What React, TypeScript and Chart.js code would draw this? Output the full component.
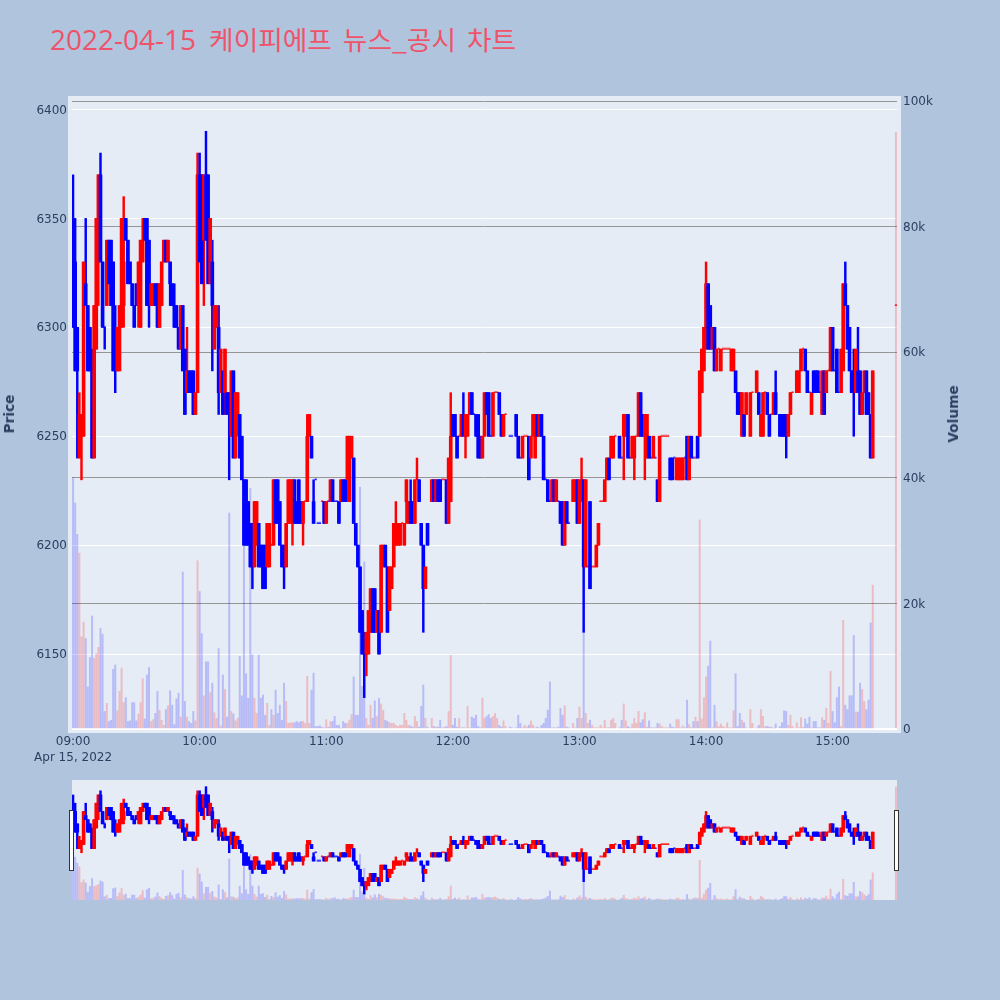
import React, { useEffect, useRef } from "react";
import { Chart, registerables } from "chart.js";

Chart.register(...registerables);

type Row = [number, number, number, number, number, number];

const titleDate = "2022-04-15";
const titleText = "케이피에프 뉴스_공시 차트";
const dateLabel = "Apr 15, 2022";
const priceTitle = "Price";
const volumeTitle = "Volume";
const priceTicks = [6150, 6200, 6250, 6300, 6350, 6400];
const volumeTicks = [0, 20, 40, 60, 80, 100];
const hourTicks = [0, 60, 120, 180, 240, 300, 360];
const hourLabels = ["09:00", "10:00", "11:00", "12:00", "13:00", "14:00", "15:00"];

// [minute after 09:00, open, high, low, close, volume in thousands]
const hour09: Row[] = [
[0,6350,6370,6300,6300,40],[1,6330,6350,6280,6280,36],[2,6300,6300,6240,6280,31],[3,6240,6270,6240,6260,28],[4,6250,6260,6230,6260,14.7],
[5,6250,6330,6250,6330,17],[6,6320,6350,6310,6310,14.4],[7,6310,6310,6280,6280,6.7],[8,6300,6300,6280,6280,11.4],[9,6280,6290,6240,6240,18],
[10,6240,6310,6240,6310,11.3],[11,6290,6350,6290,6350,12],[12,6340,6370,6310,6370,13],[13,6370,6380,6330,6330,16],[14,6330,6330,6300,6300,15.1],
[15,6300,6300,6290,6300,2.8],[16,6310,6340,6310,6340,4.1],[17,6340,6340,6320,6320,1.2],[18,6340,6340,6310,6310,1.4],[19,6330,6330,6280,6280,9.5],
[20,6290,6310,6270,6280,10.2],[21,6280,6300,6280,6300,2.9],[22,6280,6310,6280,6310,6],[23,6300,6350,6300,6350,9.7],[24,6310,6360,6300,6330,4.2],
[25,6350,6350,6340,6340,5],[26,6340,6340,6320,6320,1.2],[27,6330,6330,6320,6320,1.3],[28,6320,6320,6310,6310,4.2],[29,6310,6310,6300,6300,4.2],
[30,6320,6320,6310,6310,1.3],[31,6310,6330,6300,6330,2.4],[32,6300,6340,6300,6340,4.2],[33,6330,6350,6330,6340,8],[34,6350,6350,6340,6340,1.6],
[35,6350,6350,6310,6310,8.6],[36,6340,6340,6300,6310,9.8],[37,6310,6320,6310,6320,1.2],[38,6310,6320,6310,6320,1.5],[39,6320,6320,6310,6310,2.5],
[40,6320,6320,6300,6300,6],[41,6300,6320,6300,6320,3],[42,6310,6330,6310,6330,1.4],[43,6330,6340,6330,6340,0.6],[44,6340,6340,6330,6330,3.1],
[45,6330,6340,6330,6340,3.7],[46,6330,6330,6310,6320,6.1],[47,6320,6320,6310,6310,3.8],[48,6310,6320,6300,6300,0.7],[49,6310,6310,6300,6300,4.8],
[50,6300,6300,6290,6290,5.7],[51,6290,6310,6290,6310,1.9],[52,6310,6310,6280,6280,25],[53,6290,6290,6260,6260,4.4],[54,6270,6300,6270,6280,1.9],
[55,6280,6280,6270,6270,1.2],[56,6280,6280,6270,6270,0.9],[57,6280,6280,6260,6260,2.8],[58,6260,6270,6260,6270,1.3],[59,6270,6380,6270,6370,26.8],
];
const hour10: Row[] = [
[60,6370,6380,6330,6330,21.9],[61,6370,6370,6320,6320,15.2],[62,6340,6370,6310,6370,5.3],[63,6370,6390,6340,6340,10.7],[64,6370,6370,6320,6320,10.7],
[65,6320,6350,6320,6350,5.8],[66,6330,6340,6280,6310,7.3],[67,6290,6310,6290,6310,2.6],[68,6300,6310,6300,6310,1.7],[69,6300,6310,6260,6270,12.8],
[70,6270,6290,6270,6290,0.5],[71,6280,6280,6260,6260,8.6],[72,6270,6290,6260,6290,6.3],[73,6270,6270,6260,6260,1.9],[74,6270,6270,6230,6260,34.4],
[75,6250,6280,6250,6280,2.8],[76,6280,6280,6240,6240,2.4],[77,6240,6270,6240,6270,1.3],[78,6260,6270,6250,6270,1.7],[79,6260,6260,6240,6240,11.6],
[80,6250,6250,6230,6230,5.3],[81,6230,6230,6200,6200,37.8],[82,6230,6230,6200,6200,8.8],[83,6220,6220,6200,6200,4.9],[84,6210,6210,6190,6190,38.3],
[85,6210,6210,6180,6190,11.8],[86,6190,6220,6190,6220,4.9],[87,6200,6220,6200,6220,2.5],[88,6210,6210,6190,6190,11.8],[89,6200,6200,6190,6190,4.9],
[90,6200,6200,6180,6180,5.4],[91,6200,6200,6180,6180,2.2],[92,6190,6210,6190,6210,4.1],[93,6190,6210,6190,6210,0.6],[94,6200,6200,6200,6200,3.1],
[95,6200,6230,6200,6230,2.2],[96,6230,6230,6210,6210,6.2],[97,6230,6230,6210,6210,2.5],[98,6220,6220,6200,6200,3.8],[99,6200,6200,6190,6190,1.4],
[100,6200,6200,6180,6190,7.3],[101,6190,6210,6190,6210,4.4],[102,6210,6230,6210,6230,0.9],[103,6210,6230,6210,6230,1],[104,6210,6230,6200,6230,1],
[105,6230,6230,6210,6210,1],[106,6220,6220,6210,6210,1.2],[107,6230,6230,6210,6210,1],[108,6220,6220,6210,6210,1.2],[109,6210,6220,6200,6220,1.2],
[110,6220,6220,6220,6220,0.9],[111,6220,6260,6220,6250,8.4],[112,6250,6260,6250,6260,0.9],[113,6250,6250,6240,6240,6.2],[114,6220,6230,6210,6210,8.9],
[115,6230,6230,6230,6230,0.4],[116,6210,6210,6210,6210,0.4],[117,6210,6210,6210,6210,0.5],[118,6220,6220,6220,6220,0.3],[119,6220,6220,6210,6210,0.2],
];
const hour11: Row[] = [
[120,6210,6220,6210,6220,1.5],[121,6220,6220,6220,6220,0.3],[122,6220,6230,6220,6230,1.2],[123,6230,6230,6220,6220,1.2],[124,6220,6220,6220,6220,2],
[125,6220,6220,6220,6220,0.6],[126,6220,6220,6210,6210,0.6],[127,6220,6230,6220,6230,0.1],[128,6230,6230,6220,6220,1.2],[129,6230,6230,6220,6220,0.9],
[130,6230,6250,6220,6250,0.9],[131,6220,6250,6220,6250,1.4],[132,6240,6250,6240,6250,2.3],[133,6240,6240,6210,6210,8.3],[134,6210,6210,6200,6200,2.2],
[135,6200,6200,6190,6190,2.2],[136,6190,6190,6160,6160,38.5],[137,6170,6170,6150,6150,6.8],[138,6160,6160,6130,6150,26.6],[139,6150,6160,6140,6160,1.7],
[140,6150,6170,6150,6170,0.6],[141,6160,6180,6160,6180,3.8],[142,6180,6180,6160,6160,1.7],[143,6180,6180,6160,6160,4.5],[144,6160,6170,6160,6170,2],
[145,6170,6170,6150,6150,4.9],[146,6160,6200,6160,6200,4],[147,6190,6200,6190,6200,3],[148,6200,6200,6190,6190,1.4],[149,6190,6190,6160,6160,1.2],
[150,6170,6190,6170,6190,1],[151,6180,6190,6180,6190,0.9],[152,6190,6210,6190,6210,0.9],[153,6200,6220,6200,6210,0.6],[154,6200,6210,6200,6210,0.4],
[155,6200,6210,6200,6210,0.6],[156,6210,6210,6210,6210,0.6],[157,6200,6210,6200,6210,2.5],[158,6220,6230,6210,6230,1.4],[159,6210,6220,6210,6220,0.6],
[160,6220,6230,6210,6210,0.5],[161,6220,6220,6210,6210,0.3],[162,6210,6230,6210,6230,2],[163,6230,6240,6230,6230,1.2],[164,6230,6230,6220,6220,0.3],
[165,6210,6210,6200,6200,3.6],[166,6200,6200,6160,6180,7],[167,6180,6190,6180,6190,1.7],[168,6210,6210,6200,6200,0.3],[170,6220,6230,6220,6230,1.7],
[171,6230,6230,6220,6220,0.4],[172,6220,6230,6220,6230,0.3],[173,6230,6230,6220,6220,0.3],[174,6230,6230,6220,6220,1.4],[175,6230,6230,6230,6230,0.2],
[176,6230,6230,6230,6230,0.3],[177,6230,6230,6210,6210,0.4],[178,6210,6240,6210,6240,2.8],[179,6220,6270,6220,6250,11.7],
];
const hour12: Row[] = [
[180,6260,6260,6250,6250,0.6],[181,6260,6260,6250,6250,1.7],[182,6250,6250,6240,6240,0.3],[183,6250,6250,6250,6250,1.7],[184,6250,6260,6250,6260,0.2],
[185,6260,6270,6250,6250,0.2],[186,6250,6260,6240,6260,0.2],[187,6250,6260,6250,6260,3.6],[188,6260,6270,6260,6270,0.2],[189,6270,6270,6260,6260,1.9],
[190,6260,6260,6260,6260,1.7],[191,6260,6260,6250,6250,2.2],[192,6260,6260,6240,6240,0.4],[193,6250,6250,6240,6240,0.2],[194,6240,6250,6240,6250,4.9],
[195,6250,6270,6250,6270,1.7],[196,6270,6270,6260,6260,2],[197,6270,6270,6250,6250,2.3],[198,6250,6250,6250,6250,1.7],[199,6250,6270,6250,6270,2],
[200,6270,6270,6270,6270,2.5],[201,6270,6270,6270,6270,1.7],[202,6270,6270,6260,6260,0.6],[203,6260,6260,6250,6250,0.3],[204,6250,6260,6250,6260,1.3],
[205,6260,6260,6260,6260,0.4],[207,6250,6250,6250,6250,0.3],[208,6250,6250,6250,6250,0.2],[210,6260,6260,6250,6250,0.2],[211,6250,6250,6240,6240,2.2],
[212,6240,6240,6240,6240,0.9],[213,6240,6250,6240,6250,0.2],[214,6250,6250,6250,6250,0.6],[215,6250,6250,6250,6250,0.3],[216,6250,6250,6230,6230,0.6],
[217,6240,6250,6240,6250,1.3],[218,6250,6260,6250,6260,0.6],[219,6240,6260,6240,6260,0.2],[220,6260,6260,6250,6250,0.3],[221,6250,6260,6250,6260,0.2],
[222,6260,6260,6250,6250,0.6],[223,6250,6250,6230,6230,0.9],[224,6230,6230,6230,6230,1.7],[225,6230,6230,6220,6220,3],[226,6220,6220,6220,6220,7.5],
[227,6220,6230,6220,6230,0.2],[228,6230,6230,6220,6220,0.2],[229,6220,6230,6220,6230,0.2],[230,6220,6220,6220,6220,0.3],[231,6220,6220,6210,6210,3.3],
[232,6220,6220,6200,6200,2.2],[233,6200,6220,6200,6220,3.7],[234,6220,6220,6210,6210,0.3],[235,6210,6210,6210,6210,0.2],[237,6220,6230,6220,6230,0.9],
[238,6220,6230,6220,6230,0.2],[239,6230,6230,6210,6210,1.7],
];
const hour13: Row[] = [
[240,6210,6230,6210,6230,3.5],[241,6220,6240,6220,6230,1.7],[242,6230,6230,6160,6190,16],[243,6190,6230,6190,6230,2.5],[244,6190,6190,6190,6190,0.9],
[245,6220,6220,6180,6180,1.4],[246,6190,6190,6190,6190,0.6],[247,6190,6190,6190,6190,0.2],[248,6190,6200,6190,6200,0.2],[249,6200,6210,6200,6210,0.2],
[250,6220,6220,6220,6220,0.6],[251,6220,6220,6220,6220,0.2],[252,6220,6230,6220,6230,1.4],[253,6230,6240,6230,6240,0.2],[254,6240,6240,6230,6230,0.2],
[255,6240,6250,6240,6250,1.4],[256,6240,6250,6240,6250,1.7],[257,6250,6250,6250,6250,0.9],[259,6250,6250,6240,6240,0.2],[260,6240,6240,6240,6240,1.4],
[261,6250,6260,6230,6260,4],[262,6250,6260,6250,6260,1.3],[263,6260,6260,6240,6240,0.4],[264,6240,6240,6240,6240,0.2],[265,6240,6250,6240,6250,0.8],
[266,6240,6250,6230,6250,1.7],[267,6250,6250,6250,6250,0.9],[268,6250,6270,6250,6270,2.8],[269,6270,6270,6250,6250,1],[270,6260,6260,6250,6250,1.5],
[271,6250,6260,6230,6260,2.6],[272,6240,6260,6240,6260,0.3],[273,6250,6250,6240,6240,1.3],[274,6240,6240,6240,6240,0.2],[275,6240,6250,6240,6250,0.2],
[276,6240,6240,6240,6240,0.2],[277,6230,6230,6220,6220,0.9],[278,6220,6250,6220,6250,0.8],[279,6250,6250,6250,6250,0.4],[280,6250,6250,6250,6250,0.2],
[281,6250,6250,6250,6250,0.2],[282,6250,6250,6250,6250,0.2],[283,6240,6240,6230,6230,0.8],[284,6240,6240,6230,6230,0.3],[285,6240,6240,6240,6240,0.2],
[286,6230,6240,6230,6240,1.5],[287,6230,6240,6230,6240,1.5],[288,6230,6240,6230,6240,0.2],[289,6230,6240,6230,6240,0.5],[290,6240,6240,6240,6240,0.2],
[291,6250,6250,6230,6230,4.6],[292,6230,6250,6230,6250,0.7],[293,6250,6250,6240,6240,0.2],[294,6240,6240,6240,6240,1.2],[295,6240,6240,6240,6240,1.9],
[296,6250,6250,6240,6240,1.2],[297,6250,6280,6250,6280,33.3],[298,6270,6290,6270,6290,1.6],[299,6280,6300,6280,6300,5],
];
const hour14: Row[] = [
[300,6290,6330,6290,6320,8.3],[301,6320,6320,6290,6290,10],[302,6310,6310,6290,6290,14],[303,6290,6300,6290,6300,0.2],[304,6300,6300,6280,6280,3.8],
[305,6280,6290,6280,6290,1.2],[306,6290,6290,6290,6290,0.4],[307,6280,6290,6280,6290,0.8],[308,6290,6290,6290,6290,0.4],[309,6290,6290,6290,6290,0.2],
[310,6290,6290,6290,6290,1],[311,6290,6290,6290,6290,0.2],[312,6280,6290,6280,6290,0.2],[313,6280,6290,6280,6290,2.9],[314,6280,6280,6270,6270,8.8],
[315,6270,6270,6260,6260,0.4],[316,6270,6270,6260,6260,2.5],[317,6250,6270,6250,6270,1.4],[318,6260,6260,6250,6250,1],[319,6260,6270,6260,6270,0.2],
[321,6250,6270,6250,6270,3.1],[322,6270,6270,6270,6270,0.9],[324,6270,6280,6270,6280,0.2],[325,6270,6270,6260,6260,0.6],[326,6250,6260,6250,6260,3.1],
[327,6250,6270,6250,6270,2],[328,6270,6270,6270,6270,0.4],[329,6270,6270,6260,6260,0.4],[330,6260,6260,6250,6250,0.3],[331,6260,6260,6260,6260,0.3],
[332,6260,6270,6260,6270,0.1],[333,6270,6280,6260,6260,0.8],[335,6260,6260,6250,6250,0.4],[336,6260,6260,6250,6250,1],[337,6260,6260,6250,6250,2.9],
[338,6260,6260,6240,6250,2.8],[339,6250,6260,6250,6260,0.6],[340,6260,6270,6260,6270,2.2],[341,6270,6270,6270,6270,0.4],[343,6270,6280,6270,6280,1],
[344,6270,6280,6270,6280,0.2],[345,6280,6290,6280,6290,1.8],[346,6290,6290,6290,6290,0.3],[347,6290,6290,6280,6280,1.6],[348,6280,6280,6270,6270,0.8],
[349,6270,6270,6270,6270,1.9],[350,6260,6270,6260,6270,0.2],[351,6280,6280,6270,6270,1.2],[352,6280,6280,6270,6270,1.2],[353,6280,6280,6270,6270,0.2],
[354,6270,6270,6270,6270,0.2],[355,6260,6280,6260,6280,1.8],[356,6280,6280,6260,6260,1.4],[357,6270,6280,6270,6280,3.3],[358,6280,6280,6280,6280,0.9],
[359,6280,6300,6280,6300,9.2],
];
const hour15: Row[] = [
[360,6300,6300,6280,6280,2.8],[361,6280,6280,6280,6280,1],[362,6290,6290,6270,6270,5],[363,6270,6270,6270,6270,6.7],[364,6270,6290,6270,6290,0.4],
[365,6280,6320,6280,6320,17.3],[366,6320,6330,6310,6310,3.8],[367,6310,6310,6290,6290,3.1],[368,6300,6300,6280,6280,5.3],[369,6280,6280,6270,6270,5.3],
[370,6280,6290,6250,6270,14.9],[371,6270,6290,6270,6290,2.7],[372,6280,6300,6270,6270,2.7],[373,6280,6280,6260,6260,7.3],[374,6260,6270,6260,6270,6.3],
[375,6270,6280,6270,6280,4.4],[376,6280,6280,6260,6260,3.1],[377,6270,6270,6260,6260,4.6],[378,6260,6260,6240,6240,16.9],[379,6240,6280,6240,6280,22.9],
[390,6310,6310,6310,6310,95],
];
const blueFlatMinutes = [15,94,115,116,117,121,124,125,190,198,207,208,212,224,226,230,235,260,264,274,276,285,290,294,349,354,361,363];

const rows: Row[] = [...hour09, ...hour10, ...hour11, ...hour12, ...hour13, ...hour14, ...hour15];

const UP = "#ff0000";
const DOWN = "#0000ff";
const UP_SOFT = "rgba(255,0,0,0.2)";
const DOWN_SOFT = "rgba(0,0,255,0.2)";
const UP_FLAT = "rgba(255,0,0,0.6)";
const DOWN_FLAT = "rgba(0,0,255,0.6)";
const PLOT_BG = "#e5ecf6";
const PAGE_BG = "#b0c4de";
const INK = "#2a3f5f";
const FONT = "'DejaVu Sans', 'Noto Sans CJK KR', sans-serif";

const isDown = (r: Row) => r[4] < r[1] || blueFlatMinutes.includes(r[0]);
const isFlat = (r: Row) => r[4] === r[1];

function buildDatasets() {
  const moving = rows.filter((r) => !isFlat(r));
  const flat = rows.filter(isFlat);
  return [
    {
      label: "Volume",
      yAxisID: "y2",
      order: 4,
      grouped: false,
      barThickness: 1.35,
      backgroundColor: rows.map((r) => (isDown(r) ? DOWN_SOFT : UP_SOFT)),
      data: rows.map((r) => ({ x: r[0], y: r[5] })),
    },
    {
      label: "Wick",
      yAxisID: "y",
      order: 3,
      grouped: false,
      barThickness: 1.8,
      backgroundColor: rows.map((r) => (isDown(r) ? DOWN : UP)),
      data: rows.map((r) => ({ x: r[0], y: [r[3], r[2]] })),
    },
    {
      label: "Flat",
      yAxisID: "y",
      order: 2,
      grouped: false,
      barThickness: 1.4,
      minBarLength: 1.2,
      backgroundColor: flat.map((r) => (isDown(r) ? DOWN_FLAT : UP_FLAT)),
      data: flat.map((r) => ({ x: r[0], y: [r[1], r[4]] })),
    },
    {
      label: "Body",
      yAxisID: "y",
      order: 1,
      grouped: false,
      barThickness: 3,
      backgroundColor: moving.map((r) => (isDown(r) ? DOWN : UP)),
      data: moving.map((r) => ({ x: r[0], y: [Math.min(r[1], r[4]), Math.max(r[1], r[4])] })),
    },
  ];
}

const PRICE_MIN = 6115.6;
const PRICE_MAX = 6406.2;
const VOL_MIN = 0;
const VOL_MAX = 100.8;
const X_MIN = -0.5;
const X_MAX = 390.5;

const mainBackground = {
  id: "mainBackground",
  beforeDraw(chart: any) {
    const { ctx } = chart;
    ctx.save();
    ctx.fillStyle = PLOT_BG;
    ctx.fillRect(68, 96, 833, 637);
    ctx.restore();
  },
};

const sliderDecor = {
  id: "sliderDecor",
  beforeDraw(chart: any) {
    const { ctx, chartArea: a } = chart;
    ctx.save();
    ctx.fillStyle = PLOT_BG;
    ctx.fillRect(a.left, a.top, a.right - a.left, a.bottom - a.top);
    ctx.restore();
  },
  afterDraw(chart: any) {
    const { ctx, chartArea: a } = chart;
    ctx.save();
    ctx.fillStyle = "#ffffff";
    ctx.strokeStyle = "#333333";
    ctx.lineWidth = 1;
    [a.left - 2.5, a.right - 2.5].forEach((x: number) => {
      ctx.fillRect(x, 40.5, 4, 60);
      ctx.strokeRect(x, 40.5, 4, 60);
    });
    ctx.restore();
  },
};

const rotatedTitle = (centerX: number): React.CSSProperties => ({
  position: "absolute",
  left: centerX,
  top: 414,
  transform: "translate(-50%, -50%) rotate(-90deg)",
  fontFamily: FONT,
  fontSize: 13.7,
  fontWeight: "bold",
  color: INK,
  whiteSpace: "nowrap",
  zIndex: 2,
});

export default function App() {
  const mainRef = useRef<HTMLCanvasElement>(null);
  const sliderRef = useRef<HTMLCanvasElement>(null);

  useEffect(() => {
    const main = new Chart(mainRef.current!, {
      type: "bar",
      data: { datasets: buildDatasets() as any },
      plugins: [mainBackground],
      options: {
        responsive: false,
        animation: false,
        devicePixelRatio: 1,
        layout: { padding: { top: 96, right: 39, bottom: 0, left: 0 } },
        plugins: { legend: { display: false }, tooltip: { enabled: false }, title: { display: false } },
        scales: {
          x: {
            type: "linear",
            offset: false,
            min: X_MIN,
            max: X_MAX,
            afterFit: (s: any) => { s.height = 41; },
            afterBuildTicks: (s: any) => { s.ticks = hourTicks.map((value) => ({ value })); },
            grid: { display: false, offset: false },
            border: { display: false },
            ticks: {
              autoSkip: false,
              maxRotation: 0,
              padding: -3,
              color: INK,
              font: { family: FONT, size: 12, lineHeight: 1.35 },
              callback: (v: any) => {
                const label = hourLabels[hourTicks.indexOf(Number(v))];
                return Number(v) === 0 ? [label, dateLabel] : label;
              },
            },
          },
          y: {
            position: "left",
            min: PRICE_MIN,
            max: PRICE_MAX,
            afterFit: (s: any) => { s.width = 72; },
            afterBuildTicks: (s: any) => { s.ticks = priceTicks.map((value) => ({ value })); },
            grid: { color: "#ffffff", lineWidth: 1, drawTicks: false },
            border: { display: false },
            ticks: { color: INK, padding: 5, labelOffset: 1, font: { family: FONT, size: 12 }, callback: (v: any) => String(v) },
          },
          y2: {
            position: "right",
            min: VOL_MIN,
            max: VOL_MAX,
            afterFit: (s: any) => { s.width = 64; },
            afterBuildTicks: (s: any) => { s.ticks = volumeTicks.map((value) => ({ value })); },
            grid: {
              color: (c: any) => (c.tick && c.tick.value === 0 ? "#ffffff" : "#969696"),
              lineWidth: (c: any) => (c.tick && c.tick.value === 0 ? 2 : 1),
              drawTicks: false,
            },
            border: { display: false },
            ticks: {
              color: INK,
              padding: 6,
              labelOffset: 1,
              font: { family: FONT, size: 12 },
              callback: (v: any) => (Number(v) === 0 ? "0" : `${v}k`),
            },
          },
        },
      } as any,
    });

    const slider = new Chart(sliderRef.current!, {
      type: "bar",
      data: { datasets: buildDatasets() as any },
      plugins: [sliderDecor],
      options: {
        responsive: false,
        animation: false,
        devicePixelRatio: 1,
        layout: { padding: { top: 10, right: 103, bottom: 10, left: 72 } },
        plugins: { legend: { display: false }, tooltip: { enabled: false }, title: { display: false } },
        scales: {
          x: { type: "linear", offset: false, min: X_MIN, max: X_MAX, display: false },
          y: { min: PRICE_MIN, max: PRICE_MAX, display: false },
          y2: { min: VOL_MIN, max: VOL_MAX, display: false },
        },
      } as any,
    });

    return () => {
      main.destroy();
      slider.destroy();
    };
  }, []);

  return (
    <div style={{ position: "fixed", left: 0, top: 0, width: 1000, height: 1000, background: PAGE_BG, overflow: "hidden" }}>
      <div
        style={{
          position: "absolute",
          left: 50,
          top: 23,
          lineHeight: "32px",
          color: "#ef5369",
          whiteSpace: "nowrap",
        }}
      >
        <span style={{ fontFamily: "'Open Sans', sans-serif", fontSize: 28 }}>{titleDate}</span>
        <span style={{ fontFamily: "'Noto Sans CJK KR', sans-serif", fontSize: 26.7, wordSpacing: 5, marginLeft: 2 }}> {titleText}</span>
      </div>
      <div style={rotatedTitle(9)}>{priceTitle}</div>
      <div style={rotatedTitle(953)}>{volumeTitle}</div>
      <canvas ref={mainRef} width={1000} height={770} style={{ position: "absolute", left: 0, top: 0 }} />
      <canvas ref={sliderRef} width={1000} height={140} style={{ position: "absolute", left: 0, top: 770 }} />
    </div>
  );
}
